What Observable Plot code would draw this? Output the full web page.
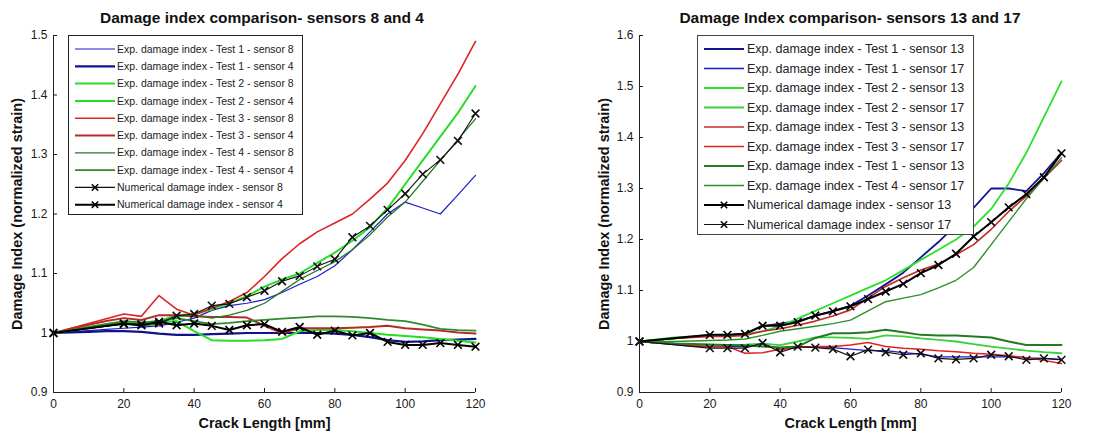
<!DOCTYPE html>
<html>
<head>
<meta charset="utf-8">
<script src="https://cdn.jsdelivr.net/npm/d3@7"></script>
<script src="https://cdn.jsdelivr.net/npm/@observablehq/plot@0.6"></script>
<style>
  html, body { margin: 0; padding: 0; background: #fff; }
  body { font-family: "Liberation Sans", Arial, sans-serif; }
  #wrap { position: relative; width: 1110px; height: 434px; overflow: hidden; }
  .panel { position: absolute; top: 0; width: 555px; height: 434px; }
  .title { position: absolute; top: 8px; height: 20px; line-height: 20px; text-align: center;
           font-weight: bold; font-size: 15.5px; color: #111; white-space: nowrap; }
  .plot { position: absolute; top: 28px; left: 0; }
  .legend { position: absolute; background: #fff; border: 1px solid #333; box-sizing: border-box; }
</style>
</head>
<body>
<div id="wrap"></div>
<script>
// ---------------- data ----------------
const crackLength = [0,5,10,15,20,25,30,35,40,45,50,55,60,65,70,75,80,85,90,95,100,105,110,115,120];
const numericalCrackLength = [0,20,25,30,35,40,45,50,55,60,65,70,75,80,85,90,95,100,105,110,115,120];
const xTicks = [0,20,40,60,80,100,120];
const yTicksLeft = [0.9,1.0,1.1,1.2,1.3,1.4,1.5];
const yTicksRight = [0.9,1.0,1.1,1.2,1.3,1.4,1.5,1.6];

// Left panel: sensors 8 and 4
const leftTest1Sensor8 = [1.000,1.002,1.004,1.006,1.008,1.010,1.012,1.018,1.025,1.038,1.046,1.050,1.056,1.068,1.082,1.095,1.113,1.140,1.170,1.200,1.220,1.210,1.200,1.232,1.265];
const leftTest1Sensor4 = [1.000,1.001,1.002,1.003,1.003,1.002,0.999,0.997,0.997,0.998,0.999,1.000,1.000,1.000,1.000,1.000,0.999,0.997,0.993,0.988,0.985,0.986,0.988,0.989,0.990];
const leftTest2Sensor8 = [1.000,1.005,1.010,1.015,1.018,1.017,1.020,1.030,1.032,1.040,1.050,1.062,1.078,1.090,1.100,1.118,1.135,1.155,1.178,1.210,1.250,1.290,1.330,1.370,1.415];
const leftTest2Sensor4 = [1.000,1.004,1.008,1.012,1.015,1.015,1.018,1.020,1.003,0.988,0.987,0.987,0.988,0.990,1.003,1.005,1.005,1.003,1.000,0.997,0.995,0.993,0.990,0.987,0.984];
const leftTest3Sensor8 = [1.000,1.008,1.016,1.024,1.032,1.028,1.063,1.040,1.030,1.042,1.053,1.068,1.095,1.125,1.150,1.170,1.185,1.200,1.225,1.252,1.290,1.335,1.385,1.435,1.490];
const leftTest3Sensor4 = [1.000,1.007,1.014,1.020,1.025,1.022,1.030,1.030,1.028,1.027,1.027,1.026,1.012,1.000,1.008,1.008,1.008,1.009,1.010,1.012,1.008,1.006,1.004,1.001,0.999];
const leftTest4Sensor8 = [1.000,1.004,1.008,1.012,1.015,1.012,1.015,1.028,1.030,1.025,1.030,1.038,1.050,1.070,1.090,1.105,1.120,1.140,1.165,1.195,1.220,1.255,1.290,1.325,1.360];
const leftTest4Sensor4 = [1.000,1.005,1.010,1.015,1.020,1.018,1.020,1.025,1.020,1.015,1.017,1.020,1.022,1.024,1.026,1.028,1.028,1.027,1.025,1.022,1.020,1.014,1.007,1.005,1.004];
const leftNumSensor8 = [1.000,1.015,1.015,1.016,1.029,1.032,1.046,1.049,1.060,1.071,1.087,1.096,1.112,1.124,1.161,1.180,1.207,1.234,1.267,1.291,1.323,1.369];
const leftNumSensor4 = [1.000,1.016,1.013,1.019,1.013,1.016,1.012,1.005,1.013,1.015,1.002,1.010,0.997,1.004,0.996,1.000,0.985,0.980,0.980,0.983,0.980,0.977];

// Right panel: sensors 13 and 17
const rightTest1Sensor13 = [1.000,1.003,1.006,1.009,1.012,1.012,1.015,1.030,1.035,1.040,1.050,1.060,1.070,1.090,1.112,1.135,1.165,1.195,1.228,1.262,1.300,1.300,1.295,1.330,1.370];
const rightTest1Sensor17 = [1.000,0.997,0.994,0.991,0.990,0.990,0.990,0.995,0.985,0.988,0.990,0.988,0.985,0.982,0.982,0.978,0.975,0.970,0.970,0.970,0.970,0.970,0.968,0.967,0.965];
const rightTest2Sensor13 = [1.000,1.004,1.008,1.010,1.012,1.012,1.015,1.020,1.030,1.045,1.060,1.075,1.090,1.105,1.120,1.140,1.160,1.180,1.200,1.225,1.260,1.310,1.370,1.440,1.510];
const rightTest2Sensor17 = [1.000,0.998,0.996,0.994,0.993,0.993,0.994,0.996,0.993,1.000,1.008,1.008,1.007,1.005,1.012,1.010,1.006,1.003,1.000,0.995,0.990,0.986,0.982,0.979,0.977];
const rightTest3Sensor13 = [1.000,1.003,1.006,1.008,1.010,1.010,1.012,1.020,1.025,1.032,1.040,1.050,1.062,1.085,1.108,1.125,1.140,1.152,1.170,1.190,1.220,1.255,1.285,1.320,1.355];
const rightTest3Sensor17 = [1.000,0.997,0.995,0.992,0.990,0.990,0.977,0.978,0.985,0.988,0.990,0.990,0.993,0.998,0.990,0.987,0.985,0.982,0.980,0.977,0.975,0.972,0.968,0.963,0.957];
const rightTest1bSensor13 = [1.000,0.998,0.996,0.995,0.994,0.993,0.992,0.990,0.988,0.990,1.007,1.016,1.016,1.018,1.023,1.018,1.013,1.012,1.012,1.010,1.008,1.000,0.993,0.993,0.993];
const rightTest4Sensor17 = [1.000,1.000,1.000,1.001,1.002,1.003,1.005,1.012,1.020,1.025,1.030,1.035,1.042,1.060,1.078,1.085,1.092,1.105,1.120,1.145,1.190,1.235,1.280,1.320,1.360];
const rightNumSensor13 = [1.000,1.013,1.013,1.015,1.031,1.031,1.038,1.051,1.059,1.069,1.083,1.098,1.113,1.134,1.150,1.172,1.206,1.234,1.263,1.289,1.322,1.369];
const rightNumSensor17 = [1.000,0.987,0.987,0.987,0.997,0.979,0.990,0.988,0.985,0.971,0.984,0.979,0.974,0.977,0.967,0.965,0.967,0.974,0.971,0.964,0.967,0.964];

const leftLabels = [
  "Exp. damage index - Test 1 - sensor 8",
  "Exp. damage index - Test 1 - sensor 4",
  "Exp. damage index - Test 2 - sensor 8",
  "Exp. damage index - Test 2 - sensor 4",
  "Exp. damage index - Test 3 - sensor 8",
  "Exp. damage index - Test 3 - sensor 4",
  "Exp. damage index - Test 4 - sensor 8",
  "Exp. damage index - Test 4 - sensor 4",
  "Numerical damage index - sensor 8",
  "Numerical damage index - sensor 4"
];
const rightLabels = [
  "Exp. damage index - Test 1 - sensor 13",
  "Exp. damage index - Test 1 - sensor 17",
  "Exp. damage index - Test 2 - sensor 13",
  "Exp. damage index - Test 2 - sensor 17",
  "Exp. damage index - Test 3 - sensor 13",
  "Exp. damage index - Test 3 - sensor 17",
  "Exp. damage index - Test 1 - sensor 13",
  "Exp. damage index - Test 4 - sensor 17",
  "Numerical damage index - sensor 13",
  "Numerical damage index - sensor 17"
];

// ---------------- styles ----------------
const leftStyles = [
  {color: "#1c1ccf", width: 1.2, marker: false},
  {color: "#12128c", width: 2.2, marker: false},
  {color: "#2bdc2b", width: 2.0, marker: false},
  {color: "#22e022", width: 2.0, marker: false},
  {color: "#dd2424", width: 1.6, marker: false},
  {color: "#b72a2a", width: 2.0, marker: false},
  {color: "#237c23", width: 1.3, marker: false},
  {color: "#2f8a2f", width: 1.8, marker: false},
  {color: "#111", width: 1.1, marker: true},
  {color: "#000", width: 2.0, marker: true}
];
const rightStyles = [
  {color: "#14148f", width: 1.8, marker: false},
  {color: "#1c1ccf", width: 1.3, marker: false},
  {color: "#2be02b", width: 1.8, marker: false},
  {color: "#3dd03d", width: 1.8, marker: false},
  {color: "#c02a2a", width: 1.6, marker: false},
  {color: "#e02222", width: 1.5, marker: false},
  {color: "#237a23", width: 2.0, marker: false},
  {color: "#2e8f2e", width: 1.4, marker: false},
  {color: "#000", width: 2.0, marker: true},
  {color: "#111", width: 1.2, marker: true}
];

const leftSeries = [
  [crackLength, leftTest1Sensor8], [crackLength, leftTest1Sensor4],
  [crackLength, leftTest2Sensor8], [crackLength, leftTest2Sensor4],
  [crackLength, leftTest3Sensor8], [crackLength, leftTest3Sensor4],
  [crackLength, leftTest4Sensor8], [crackLength, leftTest4Sensor4],
  [numericalCrackLength, leftNumSensor8], [numericalCrackLength, leftNumSensor4]
];
const rightSeries = [
  [crackLength, rightTest1Sensor13], [crackLength, rightTest1Sensor17],
  [crackLength, rightTest2Sensor13], [crackLength, rightTest2Sensor17],
  [crackLength, rightTest3Sensor13], [crackLength, rightTest3Sensor17],
  [crackLength, rightTest1bSensor13], [crackLength, rightTest4Sensor17],
  [numericalCrackLength, rightNumSensor13], [numericalCrackLength, rightNumSensor17]
];

const fmtY = d => (Math.abs(d - 1) < 1e-9 ? "1" : d.toFixed(1));

function buildPanel(cfg) {
  const panel = document.createElement("div");
  panel.className = "panel";
  panel.style.left = cfg.left + "px";
  document.getElementById("wrap").appendChild(panel);

  const marks = [];
  cfg.series.forEach(([xs, ys], i) => {
    const st = cfg.styles[i];
    const data = xs.map((x, j) => ({x, y: ys[j]}));
    marks.push(Plot.line(data, {x: "x", y: "y", stroke: st.color, strokeWidth: st.width, strokeLinejoin: "round"}));
  });
  cfg.series.forEach(([xs, ys], i) => {
    const st = cfg.styles[i];
    if (!st.marker) return;
    const data = xs.map((x, j) => ({x, y: ys[j]}));
    marks.push(Plot.dot(data, {x: "x", y: "y", symbol: "times", r: 3.6, stroke: st.color, strokeWidth: 1.6}));
  });

  const svg = Plot.plot({
    width: 555,
    height: 406,
    marginLeft: cfg.marginLeft,
    marginRight: cfg.marginRight,
    marginTop: 7,
    marginBottom: 42,
    style: {fontFamily: "'Liberation Sans', Arial, sans-serif", fontSize: "12px", color: "#1a1a1a", background: "transparent", overflow: "visible"},
    x: {domain: [0, 120]},
    y: {domain: cfg.yDomain},
    marks: [
      Plot.axisX({ticks: xTicks, tickSize: -4, tickPadding: 11, label: null, fontSize: 12}),
      Plot.axisY({ticks: cfg.yTicks, tickSize: -4, tickPadding: 10, tickFormat: fmtY, label: null, fontSize: 12}),
      ...marks,
      Plot.ruleX([0], {stroke: "#222", strokeWidth: 1}),
      Plot.ruleY([cfg.yDomain[0]], {stroke: "#222", strokeWidth: 1}),
      Plot.text(["Crack Length [mm]"], {frameAnchor: "bottom", dy: 35, fontSize: 14.5, fontWeight: "bold", fill: "#111"}),
      Plot.text(["Damage Index (normalized strain)"], {frameAnchor: "left", dx: cfg.yLabelDx, rotate: -90, textAnchor: "middle", fontSize: 14.5, fontWeight: "bold", fill: "#111"})
    ]
  });
  svg.classList.add("plot");
  panel.appendChild(svg);

  const title = document.createElement("div");
  title.className = "title";
  title.textContent = cfg.title;
  title.style.left = (cfg.titleCenter - 200) + "px";
  title.style.width = "400px";
  panel.appendChild(title);

  // legend
  const L = cfg.legend;
  const box = document.createElement("div");
  box.className = "legend";
  box.style.left = L.left + "px";
  box.style.top = L.top + "px";
  box.style.width = L.width + "px";
  box.style.height = L.height + "px";
  box.style.borderColor = L.border;
  panel.appendChild(box);
  const lsvg = d3.select(box).append("svg")
    .attr("width", L.width - 2).attr("height", L.height - 2)
    .style("position", "absolute").style("left", "0px").style("top", "0px");
  cfg.labels.forEach((lab, i) => {
    const st = cfg.styles[i];
    const y = L.rowTop + i * L.rowStep;
    lsvg.append("line").attr("x1", L.x0).attr("x2", L.x1).attr("y1", y).attr("y2", y)
      .attr("stroke", st.color).attr("stroke-width", st.width);
    if (st.marker) {
      const cx = (L.x0 + L.x1) / 2, s = 3.2;
      lsvg.append("path").attr("d", `M${cx - s},${y - s}L${cx + s},${y + s}M${cx - s},${y + s}L${cx + s},${y - s}`)
        .attr("stroke", st.color).attr("stroke-width", 1.6);
    }
    lsvg.append("text").attr("x", L.textX).attr("y", y).attr("dy", "0.35em")
      .attr("font-size", L.fontSize).attr("fill", "#222")
      .attr("font-family", "'Liberation Sans', Arial, sans-serif").text(lab);
  });
}

buildPanel({
  left: 0, marginLeft: 53, marginRight: 80,
  yDomain: [0.9, 1.5], yTicks: yTicksLeft,
  series: leftSeries, styles: leftStyles, labels: leftLabels,
  title: "Damage index comparison- sensors 8 and 4", titleCenter: 262,
  yLabelDx: -36,
  legend: {left: 68, top: 35, width: 235, height: 180, border: "#222",
           rowTop: 13, rowStep: 17.3, x0: 6, x1: 46, textX: 48, fontSize: 10.5}
});
buildPanel({
  left: 555, marginLeft: 84, marginRight: 49,
  yDomain: [0.9, 1.6], yTicks: yTicksRight,
  series: rightSeries, styles: rightStyles, labels: rightLabels,
  title: "Damage Index comparison- sensors 13 and 17", titleCenter: 295,
  yLabelDx: -35,
  legend: {left: 142, top: 35, width: 277, height: 200, border: "#444",
           rowTop: 13, rowStep: 19.5, x0: 6, x1: 46, textX: 49, fontSize: 12.5}
});
</script>
</body>
</html>
